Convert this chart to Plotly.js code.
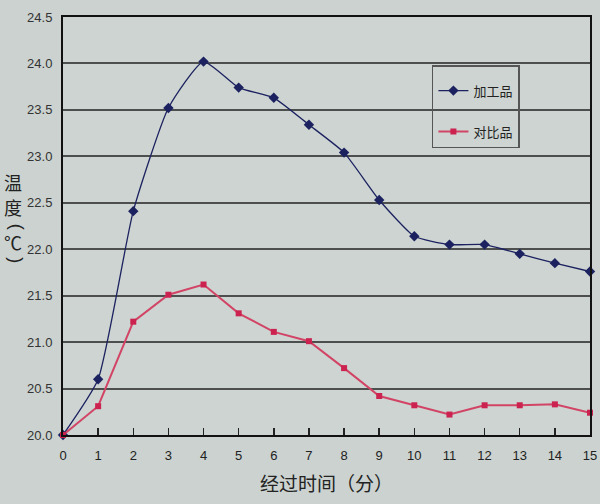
<!DOCTYPE html>
<html>
<head>
<meta charset="utf-8">
<script src="https://cdn.plot.ly/plotly-3.0.1.min.js"></script>
<style>html,body{margin:0;padding:0;background:#cbd2cf;}#chart{width:600px;height:504px;}</style>
</head>
<body>
<div id="chart"></div>
<script>
const minutes = [0,1,2,3,4,5,6,7,8,9,10,11,12,13,14,15];
const processed = [20.0,20.6,22.41,23.52,24.02,23.74,23.63,23.34,23.04,22.53,22.14,22.05,22.05,21.95,21.85,21.76];
const control = [20.0,20.31,21.22,21.51,21.62,21.31,21.11,21.01,20.72,20.42,20.32,20.22,20.32,20.32,20.33,20.24];
const seriesNames = ['加工品','对比品'];
const xTitle = '经过时间（分）';
const yTitleChars = ['温','度','(','℃',')'];
const yTitleAngles = [0, 0, 90, 0, 90];
const yTitlePos = [0.605, 0.545, 0.499, 0.462, 0.419];

const font = 'Liberation Sans, Arial, sans-serif';
const cjk = '"Noto Sans CJK SC", sans-serif';

const traces = [
  {x: minutes, y: processed, name: seriesNames[0], type: 'scatter', mode: 'lines+markers',
   legendgroup: 'a', cliponaxis: false,
   line: {color: '#1c2260', width: 1.3, shape: 'spline', smoothing: 0.5},
   marker: {symbol: 'diamond', size: 8, color: '#1c2260'}},
  {x: minutes, y: control, name: seriesNames[1], type: 'scatter', mode: 'lines+markers',
   legendgroup: 'b', cliponaxis: false,
   line: {color: '#d24466', width: 2},
   marker: {symbol: 'square', size: 6, color: '#cc2250'}}
];

const annotations = yTitleChars.map((c, i) => ({
  text: c, xref: 'paper', yref: 'paper', x: yTitleAngles[i] ? -0.088 : -0.094, y: yTitlePos[i],
  xanchor: 'center', yanchor: 'middle', showarrow: false, textangle: yTitleAngles[i],
  font: {family: yTitleAngles[i] ? font : cjk, size: 18, color: '#222'}
}));

const layout = {
  width: 600, height: 504,
  margin: {l: 63, r: 10, t: 17, b: 69},
  paper_bgcolor: '#cbd2cf',
  plot_bgcolor: '#cdd4d1',
  showlegend: true,
  legend: {x: 0.70, y: 0.885, xanchor: 'left', yanchor: 'top',
    bgcolor: 'rgba(0,0,0,0)', bordercolor: '#555', borderwidth: 1.5,
    font: {family: cjk, size: 13, color: '#222'},
    title: {text: ' ', font: {size: 7}},
    traceorder: 'grouped', tracegroupgap: 21, itemwidth: 30},
  xaxis: {range: [0, 15], tickmode: 'array', tickvals: minutes, ticktext: minutes.map(String),
    showgrid: false, zeroline: false, showline: true, linecolor: '#111', linewidth: 2,
    mirror: true, ticks: 'inside', ticklen: 7, tickcolor: '#222', tickwidth: 1.5,
    ticklabelstandoff: 7,
    tickfont: {family: font, size: 13, color: '#222'},
    title: {text: xTitle, font: {family: cjk, size: 19, color: '#222'}, standoff: 16}},
  yaxis: {range: [20, 24.5], dtick: 0.5, tickformat: '.1f',
    showgrid: true, gridcolor: '#4d4f4e', gridwidth: 2, zeroline: false,
    showline: true, linecolor: '#111', linewidth: 2, mirror: true,
    ticks: '', ticklabelstandoff: 6, tickfont: {family: font, size: 13, color: '#333'}},
  annotations: annotations
};

Plotly.newPlot('chart', traces, layout, {displayModeBar: false, staticPlot: true});
</script>
</body>
</html>
